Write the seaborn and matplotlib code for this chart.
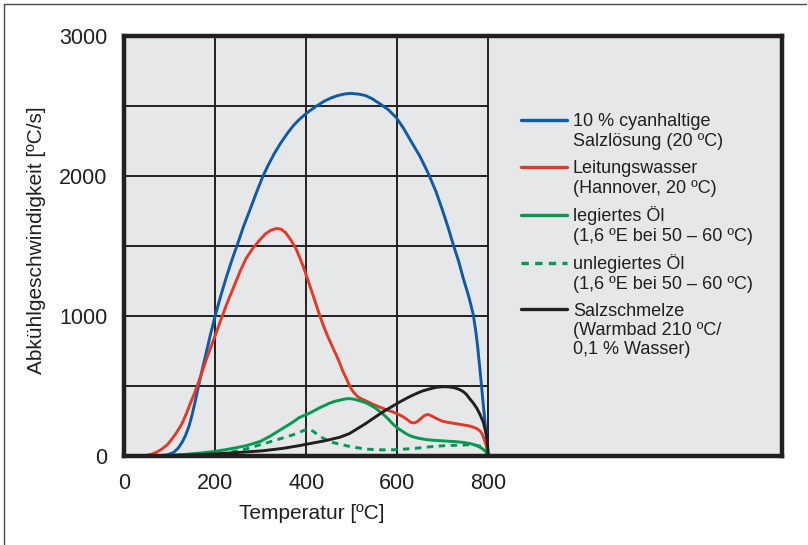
import matplotlib
matplotlib.use("Agg")
import matplotlib.pyplot as plt
from matplotlib.lines import Line2D
import pandas as pd
import seaborn as sns

# Abkühlgeschwindigkeit [ºC/s] über der Temperatur [ºC] für verschiedene Abschreckmittel
cyan_T = [0, 60, 80, 95, 109, 120, 128, 135, 143, 150, 157, 164, 172, 180, 190, 201, 213, 225,
          237, 250, 262, 275, 290, 304, 317, 330, 345, 360, 372, 385, 396, 407, 423, 440, 455,
          470, 485, 499, 515, 530, 545, 560, 580, 598, 614, 630, 650, 668, 685, 700, 712, 723,
          735, 745, 757, 767, 773, 777, 781, 785, 788, 791, 794, 797, 800]
cyan_v = [0, 0, 2, 8, 25, 60, 100, 146, 215, 300, 400, 506, 620, 730, 870, 1011, 1150, 1280,
          1400, 1520, 1635, 1745, 1875, 1990, 2080, 2160, 2240, 2310, 2360, 2404, 2435, 2464,
          2500, 2535, 2558, 2575, 2586, 2590, 2585, 2575, 2552, 2520, 2475, 2417, 2340, 2250,
          2140, 2020, 1890, 1750, 1630, 1510, 1390, 1270, 1140, 1011, 880, 770, 640, 506, 400,
          300, 200, 100, 0]

wasser_T = [0, 30, 47, 60, 72, 83, 95, 105, 116, 127, 136, 145, 155, 164, 173, 182, 191, 201,
            213, 225, 240, 255, 268, 282, 297, 310, 322, 335, 345, 355, 366, 378, 393, 407, 418,
            429, 438, 448, 457, 466, 473, 480, 488, 495, 500, 505, 513, 520, 530, 545, 561, 575,
            590, 605, 614, 622, 630, 637, 643, 650, 660, 668, 676, 688, 698, 708, 725, 745, 758,
            767, 775, 782, 787, 791, 795, 798, 800]
wasser_v = [0, 0, 3, 12, 28, 49, 80, 120, 170, 229, 295, 370, 450, 530, 615, 700, 780, 867,
            975, 1080, 1200, 1320, 1410, 1479, 1539, 1585, 1612, 1625, 1620, 1595, 1545, 1479,
            1360, 1227, 1120, 1011, 930, 850, 785, 722, 670, 610, 555, 506, 475, 452, 425, 410,
            396, 372, 350, 332, 315, 294, 278, 260, 240, 236, 243, 262, 290, 297, 285, 265, 250,
            242, 233, 222, 215, 206, 195, 178, 155, 120, 80, 40, 0]

oel_leg_T = [0, 60, 100, 135, 170, 201, 240, 270, 300, 320, 345, 370, 385, 407, 430, 450, 462,
             473, 485, 495, 506, 517, 530, 540, 551, 561, 571, 580, 587, 594, 602, 610, 618, 627,
             636, 645, 655, 664, 680, 700, 730, 745, 755, 765, 774, 782, 788, 793, 797, 800]
oel_leg_v = [0, 1, 4, 12, 22, 33, 55, 75, 105, 140, 190, 240, 275, 305, 345, 375, 390,
             398, 407, 410, 405, 395, 382, 365, 345, 320, 293, 265, 240, 218, 197, 180, 162, 146,
             136, 128, 122, 117, 112, 108, 102, 97, 92, 85, 74, 62, 50, 35, 18, 0]

oel_unleg_T = [0, 100, 165, 201, 240, 270, 304, 340, 370, 385, 402, 415, 430, 445, 458, 473,
               500, 532, 565, 598, 640, 679, 710, 745, 767, 782, 790, 796, 800]
oel_unleg_v = [0, 1, 3, 9, 30, 52, 85, 120, 150, 169, 192, 178, 140, 115, 97, 85,
               65, 49, 44, 45, 55, 68, 75, 78, 82, 70, 58, 35, 0]

salz_T = [0, 100, 160, 201, 250, 304, 350, 385, 407, 440, 473, 495, 530, 568, 605, 625, 642,
          656, 670, 685, 700, 712, 725, 736, 745, 752, 759, 767, 775, 782, 789, 793, 796, 798, 800]
salz_v = [0, 3, 8, 15, 25, 37, 55, 74, 88, 108, 133, 160, 230, 314, 385, 420, 446,
          465, 478, 490, 495, 494, 488, 476, 460, 440, 410, 378, 340, 295, 242, 190, 150, 100, 0]

medien = ["cyan", "wasser", "oel_leg", "oel_unleg", "salz"]
legend_text = [
    ["10 % cyanhaltige", "Salzlösung (20 ºC)"],
    ["Leitungswasser", "(Hannover, 20 ºC)"],
    ["legiertes Öl", "(1,6 ºE bei 50 – 60 ºC)"],
    ["unlegiertes Öl", "(1,6 ºE bei 50 – 60 ºC)"],
    ["Salzschmelze", "(Warmbad 210 ºC/", "0,1 % Wasser)"],
]
x_ticks = [0, 200, 400, 600, 800]
y_ticks = [0, 1000, 2000, 3000]

colors = {"cyan": "#0e5aa7", "wasser": "#e03b2a", "oel_leg": "#00994f",
          "oel_unleg": "#00994f", "salz": "#231f20"}
dashes = {"cyan": "", "wasser": "", "oel_leg": "", "oel_unleg": (2.2, 1.9), "salz": ""}

series = {"cyan": (cyan_T, cyan_v), "wasser": (wasser_T, wasser_v),
          "oel_leg": (oel_leg_T, oel_leg_v), "oel_unleg": (oel_unleg_T, oel_unleg_v),
          "salz": (salz_T, salz_v)}
df = pd.concat([pd.DataFrame({"T": t, "v": v, "medium": m}) for m, (t, v) in series.items()],
               ignore_index=True)

sns.set_theme(style="white")
plt.rcParams["font.family"] = ["Liberation Sans", "DejaVu Sans"]
ink = "#231f20"
W, H = 808, 545

fig = plt.figure(figsize=(W / 100, H / 100), dpi=100)
ax = fig.add_axes([124 / W, 1 - 456 / H, (782 - 124) / W, (456 - 36) / H])
ax.set_facecolor("#e6e7e8")

# Raster: senkrechte Linien über die volle Höhe, waagerechte nur bis 800 ºC
ax.vlines([200, 400, 600, 800], 0, 3000, color=ink, lw=1.4, zorder=1)
ax.hlines([500, 1000, 1500, 2000, 2500], 0, 800, color=ink, lw=1.4, zorder=1)

sns.lineplot(data=df, x="T", y="v", hue="medium", style="medium", hue_order=medien,
             style_order=medien, palette=colors, dashes=dashes, estimator=None,
             sort=False, legend=False, lw=2.1, ax=ax, zorder=3)
for ln in ax.lines:
    ln.set_solid_joinstyle("round")
    ln.set_dash_joinstyle("round")

ax.set_xlim(0, 1445)
ax.set_ylim(0, 3000)
ax.set_xticks(x_ticks)
ax.set_yticks(y_ticks)
ax.tick_params(length=0, labelsize=15.5, labelcolor=ink)
ax.tick_params(axis="x", pad=12)
ax.tick_params(axis="y", pad=12)
for s in ax.spines.values():
    s.set_visible(True)
    s.set_linewidth(3.2)
    s.set_color(ink)
    s.set_zorder(5)

ax.set_xlabel("Temperatur [ºC]", fontsize=15, color=ink)
ax.set_ylabel("Abkühlgeschwindigkeit [ºC/s]", fontsize=15, color=ink)
ax.xaxis.set_label_coords(0.285, -0.115)
ax.yaxis.set_label_coords(-0.118, 0.515)

# Legende: Linienmuster links, mehrzeilige Beschriftung rechts daneben
first_baseline = [126.5, 173.5, 221.5, 269.5, 315.5]
for m, lines, yb in zip(medien, legend_text, first_baseline):
    yl = 1 - (yb - 6.5) / H
    fig.add_artist(Line2D([521 / W, 567 / W], [yl, yl], transform=fig.transFigure,
                          color=colors[m], lw=2.4,
                          dashes=dashes[m] if dashes[m] else (None, None)))
    for j, txt in enumerate(lines):
        fig.text(573 / W, 1 - (yb + 19.5 * j) / H, txt, fontsize=13, color=ink,
                 va="baseline", ha="left")

# Rahmenlinien oben und links
frame = "#4a4a4a"
fig.add_artist(Line2D([4 / W, 4 / W], [0, 1 - 4 / H], transform=fig.transFigure, color=frame, lw=1.0))
fig.add_artist(Line2D([4 / W, 806 / W], [1 - 4 / H, 1 - 4 / H], transform=fig.transFigure, color=frame, lw=1.0))

fig.savefig("out.png", dpi=100)
